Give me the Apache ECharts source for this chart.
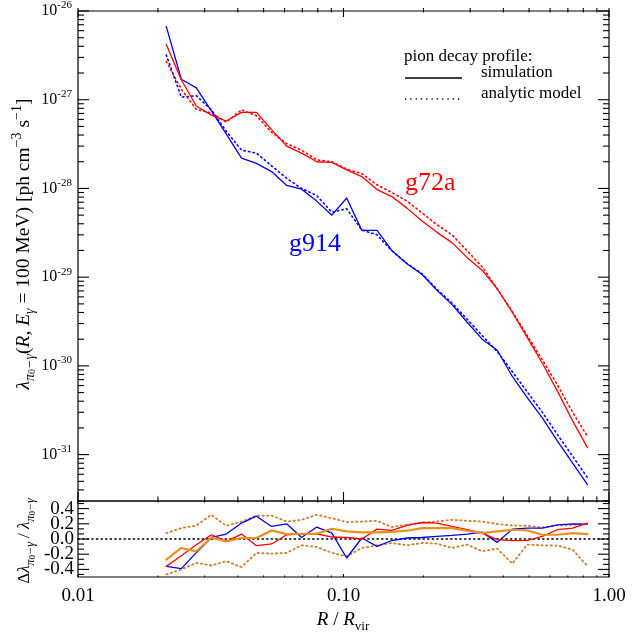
<!DOCTYPE html>
<html><head><meta charset="utf-8">
<script src="https://cdn.jsdelivr.net/npm/echarts@6/dist/echarts.min.js"></script>
<style>html,body{margin:0;padding:0;background:#fff}#c{width:640px;height:633px}</style>
</head><body><div id="c"></div>
<script>
// ---- data ----
const radius = [0.0215,0.0245,0.0279,0.0318,0.0362,0.0413,0.0470,0.0536,0.0611,0.0695,0.0793,0.0904,0.1028,0.1172,0.1337,0.1521,0.1734,0.1977,0.2249,0.2564,0.2924,0.3327,0.3793,0.4325,0.4920,0.5610,0.6397,0.7295,0.8299];
const g914Sim = [6.7e-27,1.7e-27,1.36e-27,7.5e-28,4.1e-28,2.2e-28,1.92e-28,1.55e-28,1.08e-28,9.8e-29,7.2e-29,5.0e-29,7.8e-29,3.37e-29,3.37e-29,2.0e-29,1.42e-29,1.07e-29,7.1e-30,4.9e-30,3.1e-30,2.0e-30,1.5e-30,7.6e-31,4.4e-31,2.6e-31,1.42e-31,8.0e-32,4.6e-32];
const g914Model = [3.2e-27,1.07e-27,1.11e-27,7.7e-28,4.4e-28,2.7e-28,2.5e-28,1.8e-28,1.3e-28,1.0e-28,8.3e-29,5.4e-29,5.9e-29,3.4e-29,3.0e-29,1.98e-29,1.43e-29,1.09e-29,7.3e-30,5.1e-30,3.35e-30,2.2e-30,1.45e-30,8.6e-31,5.1e-31,3.0e-31,1.68e-31,9.6e-32,5.5e-32];
const g72aSim = [4.2e-27,1.68e-27,8.5e-28,6.7e-28,5.75e-28,7.2e-28,7.2e-28,4.6e-28,3.0e-28,2.5e-28,2.0e-28,1.97e-28,1.62e-28,1.36e-28,9.7e-29,8.1e-29,6.0e-29,4.3e-29,3.2e-29,2.45e-29,1.66e-29,1.2e-29,7.4e-30,4.0e-30,2.1e-30,1.07e-30,5.2e-31,2.4e-31,1.2e-31];
const g72aModel = [2.7e-27,1.31e-27,7.8e-28,7.1e-28,5.6e-28,7.7e-28,6.6e-28,4.3e-28,3.2e-28,2.7e-28,2.1e-28,2.0e-28,1.65e-28,1.47e-28,1.1e-28,9.0e-29,7.2e-29,5.3e-29,3.9e-29,3.0e-29,1.98e-29,1.31e-29,7.4e-30,4.1e-30,2.2e-30,1.17e-30,6.1e-31,3.0e-31,1.6e-31];

const resG914 = [-0.36,-0.39,-0.18,0.02,0.065,0.21,0.30,0.165,0.20,0.02,0.157,0.078,-0.25,0.013,-0.097,-0.02,0.013,0.02,0.034,0.047,0.065,0.09,-0.044,0.13,0.143,0.143,0.187,0.20,0.196];
const resG72a = [-0.36,-0.22,-0.075,0.056,-0.031,0.065,-0.088,-0.065,0.056,0.069,0.069,0.026,0.02,0.0,0.13,0.113,0.178,0.217,0.209,0.165,0.122,0.078,-0.009,-0.022,-0.018,0.034,0.122,0.143,0.209];
const resMean = [-0.27,-0.118,-0.162,0.02,-0.031,0.013,0.013,0.113,0.065,0.069,0.069,0.135,0.10,0.087,0.087,0.095,0.109,0.143,0.143,0.143,0.109,0.078,0.10,0.122,0.113,0.056,0.056,0.078,0.065];
const resUpper = [0.078,0.143,0.178,0.318,0.174,0.23,0.305,0.309,0.23,0.252,0.318,0.274,0.222,0.23,0.239,0.157,0.187,0.217,0.23,0.252,0.239,0.23,0.196,0.178,0.174,0.152,0.178,0.187,0.196];
const resLower = [-0.467,-0.40,-0.314,-0.349,-0.292,-0.371,-0.183,-0.192,-0.183,-0.083,-0.105,-0.183,-0.227,-0.118,-0.083,-0.052,-0.083,-0.052,-0.061,-0.118,-0.074,-0.162,-0.127,-0.323,-0.074,-0.083,-0.087,-0.14,-0.358];
const zeroLine = [[0.01,0],[1,0]];

const xTickLabels = ['0.01','0.10','1.00'];
const resTickLabels = ['-0.4','-0.2','0.0','0.2','0.4'];
const yMin = 3e-32, yMax = 1e-26;

// ---- chart ----
// ECharts rounds tiny numbers to 20 decimals, so the emissivity axis works in units of 1e-30
const UNIT = 1e-30, UEXP = -30;
const FONT = 'Liberation Serif';
const BLUE = '#0000ff', RED = '#ff0000', ORANGE = '#e8901a', ORANGE_D = '#d07f28';
const chart = echarts.init(document.getElementById('c'), null, {renderer:'canvas'});
const pairs = a => radius.map((r,i)=>[r,a[i]]);
const pairsU = a => radius.map((r,i)=>[r,a[i]/UNIT]);

function lineSeries(name, data, xi, yi, color, width, dotted, z) {
  return {
    name, type:'line', data, xAxisIndex:xi, yAxisIndex:yi,
    symbol:'none', showSymbol:false, animation:false, silent:true, z: z||2,
    lineStyle:{color, width, type: dotted ? [1.4,3.2] : 'solid', cap:'round'}
  };
}

const supStyle = {
  b:{fontSize:16, fontFamily:FONT, color:'#000', lineHeight:22},
  s:{fontSize:11, fontFamily:FONT, color:'#000', lineHeight:12, verticalAlign:'top'}
};

const option = {
  backgroundColor:'#fff',
  animation:false,
  grid:[
    {left:78, top:8, width:531, height:493, show:true, borderColor:'#000', borderWidth:1.2, backgroundColor:'transparent'},
    {left:78, top:501, width:531, height:76, show:true, borderColor:'#000', borderWidth:1.2, backgroundColor:'transparent'}
  ],
  xAxis:[
    {gridIndex:0, type:'log', min:0.01, max:1, splitNumber:2,
     axisLine:{show:false}, axisTick:{show:false}, axisLabel:{show:false}, splitLine:{show:false}},
    {gridIndex:1, type:'log', min:0.01, max:1, splitNumber:2,
     axisLine:{show:false}, axisTick:{show:false}, splitLine:{show:false},
     axisLabel:{show:true, margin:10, fontFamily:FONT, fontSize:19, color:'#000', hideOverlap:false,
       formatter: v => { const e = Math.round(Math.log10(v)); return xTickLabels[e+2] || ''; }}}
  ],
  yAxis:[
    {gridIndex:0, type:'log', min:yMin/UNIT, max:yMax/UNIT, splitNumber:5,
     axisLine:{show:false}, axisTick:{show:false}, splitLine:{show:false},
     axisLabel:{show:true, margin:6, hideOverlap:false,
       formatter: v => { const l = Math.log10(v); const e = Math.round(l);
         if (Math.abs(l-e) > 1e-6) return ''; return '{b|10}{s|' + (e+UEXP) + '}'; },
       rich: supStyle}},
    {gridIndex:1, type:'value', min:-0.5, max:0.5, splitNumber:5,
     axisLine:{show:false}, axisTick:{show:false}, splitLine:{show:false},
     axisLabel:{show:true, margin:4, fontFamily:FONT, fontSize:19, color:'#000', lineHeight:15, hideOverlap:false,
       formatter: v => { const k = Math.round(v/0.2); if (Math.abs(v - k*0.2) > 1e-6 || Math.abs(k) > 2) return '';
         return resTickLabels[k+2]; }}}
  ],
  series:[
    lineSeries('g914 model', pairsU(g914Model), 0, 0, BLUE, 1.6, true),
    lineSeries('g72a model', pairsU(g72aModel), 0, 0, RED, 1.6, true),
    lineSeries('g914 sim', pairsU(g914Sim), 0, 0, BLUE, 1.3, false, 3),
    lineSeries('g72a sim', pairsU(g72aSim), 0, 0, RED, 1.3, false, 3),
    lineSeries('zero', zeroLine, 1, 1, '#000', 1.3, true),
    lineSeries('upper', pairs(resUpper), 1, 1, ORANGE_D, 1.8, true),
    lineSeries('lower', pairs(resLower), 1, 1, ORANGE_D, 1.8, true),
    lineSeries('g914 res', pairs(resG914), 1, 1, BLUE, 1.3, false, 3),
    lineSeries('g72a res', pairs(resG72a), 1, 1, RED, 1.3, false, 3),
    lineSeries('mean', pairs(resMean), 1, 1, ORANGE, 2.2, false, 4)
  ]
};
chart.setOption(option);

// ---- ticks (computed through the axes) and text ----
const G = [];
function seg(x1,y1,x2,y2,w){ G.push({type:'line', silent:true, z:10, shape:{x1,y1,x2,y2}, style:{stroke:'#000', lineWidth:w||1.1}}); }
const topY = 8, midY = 501, botY = 577, leftX = 78, rightX = 609;
// x ticks
for (let d=-2; d<=0; d++) {
  for (let k=1; k<=9; k++) {
    const v = k*Math.pow(10,d); if (v > 1.0000001) break;
    const x = chart.convertToPixel({xAxisIndex:0}, v);
    const major = (k===1);
    const L = major ? 9 : 4.5;
    seg(x, topY, x, topY+L); seg(x, midY, x, midY-L);
    const l2 = major ? 3 : 1.5;
    seg(x, midY, x, midY+l2); seg(x, botY, x, botY-l2);
  }
}
// y ticks, top panel (log)
for (let e=-32; e<=-26; e++) {
  for (let k=1; k<=9; k++) {
    const v = k*Math.pow(10,e-UEXP); if (v < yMin/UNIT*0.999 || v > yMax/UNIT*1.0001) continue;
    const y = chart.convertToPixel({yAxisIndex:0}, v);
    const L = (k===1) ? 11 : 6;
    seg(leftX, y, leftX+L, y); seg(rightX, y, rightX-L, y);
  }
}
// y ticks, bottom panel
for (let j=-7; j<=7; j++) {
  const v = j*0.2/3; const y = chart.convertToPixel({yAxisIndex:1}, v);
  const L = (j%3===0) ? 11 : 6;
  seg(leftX, y, leftX+L, y); seg(rightX, y, rightX-L, y);
}

function richSet(fs) {
  return {
    n:{fontSize:fs, fontFamily:FONT, color:'#000', lineHeight:fs+7},
    i:{fontSize:fs, fontFamily:FONT, fontStyle:'italic', color:'#000', lineHeight:fs+7},
    sub:{fontSize:Math.round(fs*0.7), fontFamily:FONT, fontStyle:'italic', color:'#000', lineHeight:Math.round(fs*0.75), verticalAlign:'bottom'},
    ss:{fontSize:Math.round(fs*0.53), fontFamily:FONT, color:'#000', lineHeight:Math.round(fs*1.1), verticalAlign:'bottom'},
    sup:{fontSize:Math.round(fs*0.7), fontFamily:FONT, color:'#000', lineHeight:Math.round(fs*0.75), verticalAlign:'top'}
  };
}

G.push({type:'text', silent:true, x:24, y:244, rotation:Math.PI/2,
  style:{text:'{i|λ}{sub|π}{ss|0}{sub|−γ}{n|(}{i|R}{n|, }{i|E}{sub|γ}{n| = 100 MeV) [ph cm}{sup|−3}{n| s}{sup|−1}{n|]}',
    rich:richSet(19.5), align:'center', verticalAlign:'middle'}});
G.push({type:'text', silent:true, x:25, y:541, rotation:Math.PI/2,
  style:{text:'{n|Δ}{i|λ}{sub|π}{ss|0}{sub|−γ}{n| / }{i|λ}{sub|π}{ss|0}{sub|−γ}',
    rich:richSet(17), align:'center', verticalAlign:'middle'}});
const rx = richSet(19); rx.sub = {...rx.sub, fontStyle:'normal', fontSize:13};
G.push({type:'text', silent:true, x:343, y:620,
  style:{text:'{i|R}{n| / }{i|R}{sub|vir}', rich:rx, align:'center', verticalAlign:'middle'}});

// legend
G.push({type:'text', silent:true, x:404, y:57, style:{text:'pion decay profile:', font:'17px "Liberation Serif"', fill:'#000', verticalAlign:'middle'}});
G.push({type:'line', silent:true, shape:{x1:405,y1:78,x2:462,y2:78}, style:{stroke:'#000', lineWidth:1.3}});
G.push({type:'text', silent:true, x:481, y:73, style:{text:'simulation', font:'17px "Liberation Serif"', fill:'#000', verticalAlign:'middle'}});
G.push({type:'line', silent:true, shape:{x1:405,y1:99,x2:462,y2:99}, style:{stroke:'#000', lineWidth:1.3, lineDash:[1.3,4]}});
G.push({type:'text', silent:true, x:481, y:94, style:{text:'analytic model', font:'17px "Liberation Serif"', fill:'#000', verticalAlign:'middle'}});

// series labels
G.push({type:'text', silent:true, x:405, y:183, style:{text:'g72a', font:'26px "Liberation Serif"', fill:RED, verticalAlign:'middle'}});
G.push({type:'text', silent:true, x:289, y:244, style:{text:'g914', font:'26px "Liberation Serif"', fill:BLUE, verticalAlign:'middle'}});

chart.setOption({graphic: G});
</script></body></html>
